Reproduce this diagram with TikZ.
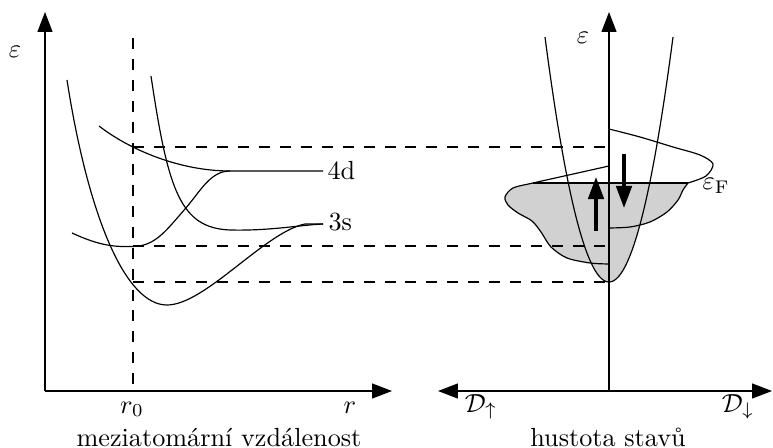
\documentclass[tikz,border=0pt]{standalone}
\usetikzlibrary{arrows.meta}
\begin{document}
\begin{tikzpicture}[x=0.3817pt,y=-0.3817pt,
  thinline/.style={line width=0.45pt},
  axis/.style={line width=0.5pt,-{Triangle[length=7.6pt,width=5.7pt]}},
  axisboth/.style={line width=0.5pt,{Triangle[length=7.6pt,width=5.7pt]}-{Triangle[length=7.6pt,width=5.7pt]}},
  guide/.style={line width=0.45pt,dash pattern=on 4.2pt off 3.8pt},
  dosfill/.style={fill=black!18},
  spinarrow/.style={line width=1.3pt,-{Triangle[length=8.4pt,width=5.9pt]}},
  lbl/.style={inner sep=0pt}]
\useasboundingbox (0,0) rectangle (773,448);
% coordinates
\coordinate (O1) at (45,391);
\coordinate (Ytop1) at (45,12);
\coordinate (Xend1) at (392,391);
\coordinate (O2) at (609,391);
\coordinate (Ytop2) at (609,12);
\coordinate (Xl2) at (438,391);
\coordinate (Xr2) at (772,391);
\coordinate (r0top) at (133,38);
\coordinate (r0bot) at (133,391);
\coordinate (hA1) at (133,147); \coordinate (hA2) at (609,147);
\coordinate (hB1) at (133,246); \coordinate (hB2) at (609,246);
\coordinate (hC1) at (133,282); \coordinate (hC2) at (609,282);
\coordinate (eFl) at (533,183); \coordinate (eFr) at (688,183);
\coordinate (upS) at (596,231); \coordinate (upE) at (596,177);
\coordinate (dnS) at (624,154); \coordinate (dnE) at (624,208);
\coordinate (end4d) at (323,171);
\coordinate (end3s) at (323,224);
% fills
\fill[dosfill] plot[domain=-40.7:40.7,samples=40] ({609+\x},{282-0.0598*\x*\x}) -- cycle;
\fill[dosfill] (609,183) -- plot[smooth] coordinates {(688,183) (683,190) (678,200) (667,212) (650,222) (630,227) (609,228)} -- cycle;
\fill[dosfill] (609,183) -- plot[smooth] coordinates {(533,183) (513,188) (505,197) (508,205) (518,213) (532,221) (541,232) (551,247) (567,258) (590,263) (609,264)} -- cycle;
% parabola
\draw[thinline] plot[domain=-64:64,samples=80] ({609+\x},{282-0.0598*\x*\x});
% DOS curves
\draw[thinline] plot[smooth] coordinates {(609,129) (640,137) (673,147) (700,155) (713,164) (706,176) (688,183)};
\draw[thinline] plot[smooth] coordinates {(688,183) (683,190) (678,200) (667,212) (650,222) (630,227) (609,228)};
\draw[thinline] plot[smooth] coordinates {(609,166) (571,174.5) (533,183) (513,188) (505,197) (508,205) (518,213) (532,221) (541,232) (551,247) (567,258) (590,263) (609,264)};
\draw[thinline] (eFl) -- (eFr);
% left curves
\draw[thinline] (67,80) .. controls (88,215) and (125,305) .. (167,305)
  .. controls (205,305) and (265,232) .. (305,224) -- (end3s);
\draw[thinline] (151,76) .. controls (168,190) and (180,228) .. (230,230)
  .. controls (270,231) and (300,225) .. (end3s);
\draw[thinline] (99,126) .. controls (130,150) and (180,171) .. (230,171) -- (end4d);
\draw[thinline] (72,233) .. controls (100,246) and (115,247) .. (133,246.5)
  .. controls (155,246) and (165,232) .. (185,209)
  .. controls (200,192) and (210,171) .. (230,171);
% dashed guides
\draw[guide] (r0top) -- (r0bot);
\draw[guide] (hA1) -- (hA2);
\draw[guide] (hB1) -- (hB2);
\draw[guide] (hC1) -- (hC2);
% axes
\draw[axis] (O1) -- (Ytop1);
\draw[axis] (O1) -- (Xend1);
\draw[axis] (O2) -- (Ytop2);
\draw[axisboth] (Xl2) -- (Xr2);
% spin arrows
\draw[spinarrow] (upS) -- (upE);
\draw[spinarrow] (dnS) -- (dnE);
% labels
\node[lbl] (eps1) at (15,52) {$\varepsilon$};
\node[lbl] (eps2) at (583,38) {$\varepsilon$};
\node[lbl,anchor=base west] (l4d) at (327,180) {4d};
\node[lbl,anchor=base west] (l3s) at (328,231) {3s};
\node[lbl,anchor=base west] (eF) at (702,190) {$\varepsilon_{\mathrm{F}}$};
\node[lbl,anchor=base] (lr0) at (132,413) {$r_0$};
\node[lbl,anchor=base] (lr) at (350,413) {$r$};
\node[lbl,anchor=base] (Dup) at (481,412) {$\mathcal{D}_\uparrow$};
\node[lbl,anchor=base] (Ddn) at (738,412) {$\mathcal{D}_\downarrow$};
\node[lbl,anchor=base] (xlab1) at (219,446) {meziatomární vzdálenost};
\node[lbl,anchor=base] (xlab2) at (608,446) {hustota stavů};
\end{tikzpicture}
\end{document}
